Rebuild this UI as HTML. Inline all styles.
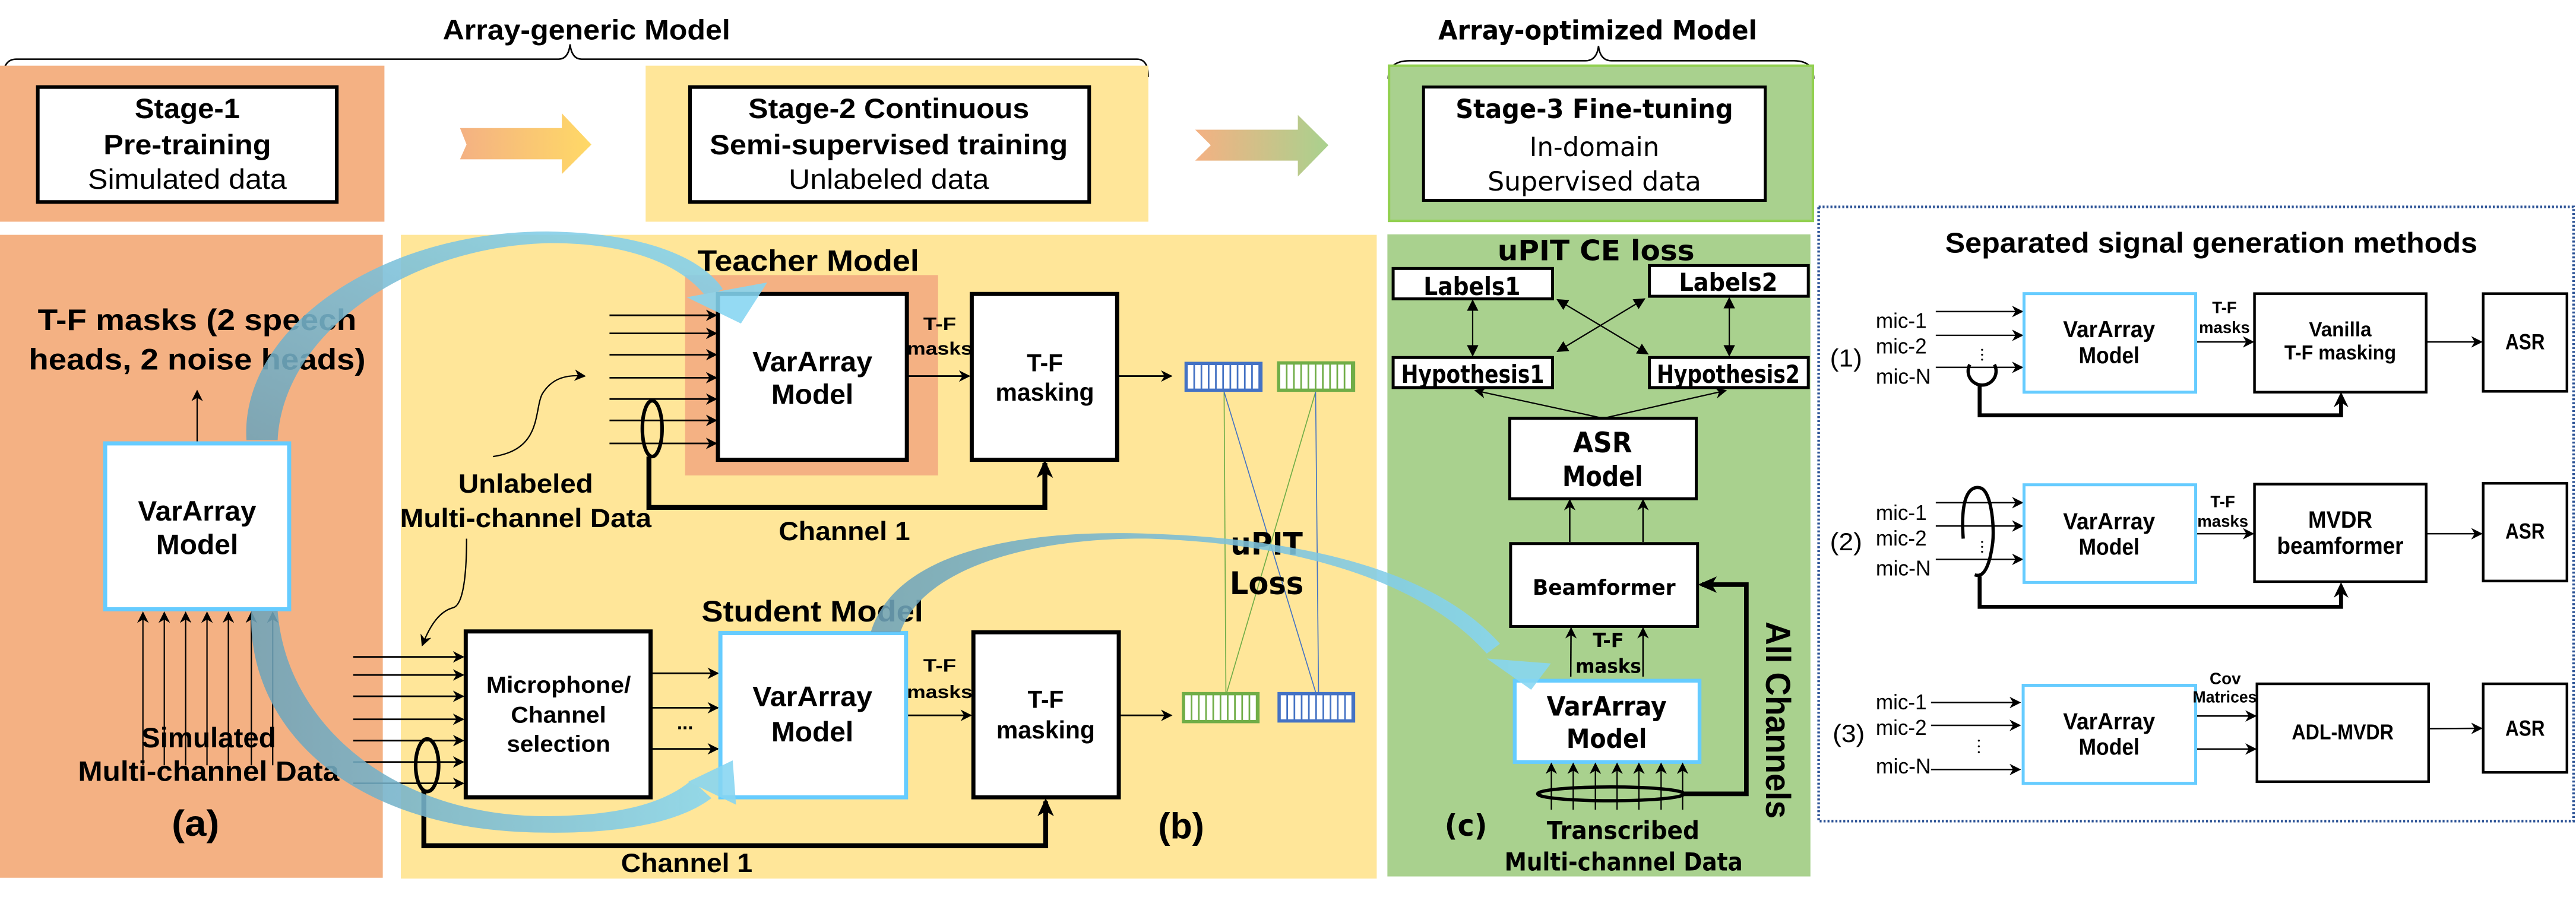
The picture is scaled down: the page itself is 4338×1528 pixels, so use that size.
<!DOCTYPE html>
<html><head><meta charset="utf-8"><style>
html,body{margin:0;padding:0;background:#fff}
svg{display:block}
.n{font-family:"Liberation Sans",sans-serif;font-weight:bold}
.r{font-family:"Liberation Sans",sans-serif}
.d{font-family:"DejaVu Sans",sans-serif;font-weight:bold}
.dr{font-family:"DejaVu Sans",sans-serif}
</style></head><body>
<svg width="4338" height="1528" viewBox="0 0 1568 552.3" preserveAspectRatio="none" xmlns="http://www.w3.org/2000/svg">
<defs>
<marker id="a" viewBox="0 0 10 10" refX="9" refY="5" markerWidth="7" markerHeight="7" markerUnits="userSpaceOnUse" orient="auto"><path d="M0,0 L10,5 L0,10 L3,5 Z" fill="#000"/></marker>
<marker id="t" viewBox="0 0 10 10" refX="9" refY="5" markerWidth="7" markerHeight="7" markerUnits="userSpaceOnUse" orient="auto-start-reverse"><path d="M0,0 L10,5 L0,10 Z" fill="#000"/></marker>
<linearGradient id="g1" x1="0" x2="1"><stop offset="0" stop-color="#f4b183"/><stop offset="1" stop-color="#ffd966"/></linearGradient>
<linearGradient id="g2" x1="0" x2="1"><stop offset="0" stop-color="#f4b183"/><stop offset="1" stop-color="#a9d18e"/></linearGradient>
<linearGradient id="bA" x1="0" y1="1" x2="1" y2="0"><stop offset="0" stop-color="#6fa3b8"/><stop offset="1" stop-color="#86d6f2"/></linearGradient>
<linearGradient id="bB" x1="0" y1="0" x2="1" y2="0"><stop offset="0" stop-color="#6fa3b8"/><stop offset="1" stop-color="#86d6f2"/></linearGradient>
</defs>

<!-- top stages -->
<text class="n" x="357" y="24" font-size="17" text-anchor="middle" textLength="175" lengthAdjust="spacingAndGlyphs">Array-generic Model</text>
<path d="M2,47 Q2,36 10,36 L340,36 Q346,36 347,27 Q348,36 354,36 L692,36 Q699,36 699,47" fill="none" stroke="#000" stroke-width="0.9"/>
<rect x="0" y="40" width="234" height="95" fill="#f4b183"/>
<rect x="23" y="53" width="182" height="70" fill="#fff" stroke="#000" stroke-width="2.2"/>
<text class="n" x="114" y="72" font-size="17" text-anchor="middle" textLength="64" lengthAdjust="spacingAndGlyphs">Stage-1</text>
<text class="n" x="114" y="94" font-size="17" text-anchor="middle" textLength="102" lengthAdjust="spacingAndGlyphs">Pre-training</text>
<text class="r" x="114" y="115" font-size="17" text-anchor="middle" textLength="121" lengthAdjust="spacingAndGlyphs">Simulated data</text>
<polygon points="280,78 342,78 342,69 360,88 342,106 342,97 280,97 284,88" fill="url(#g1)"/>
<rect x="393" y="40" width="306" height="95" fill="#ffe699"/>
<rect x="420" y="53" width="243" height="70" fill="#fff" stroke="#000" stroke-width="2.2"/>
<text class="n" x="541" y="72" font-size="17" text-anchor="middle" textLength="171" lengthAdjust="spacingAndGlyphs">Stage-2 Continuous</text>
<text class="n" x="541" y="94" font-size="17" text-anchor="middle" textLength="218" lengthAdjust="spacingAndGlyphs">Semi-supervised training</text>
<text class="r" x="541" y="115" font-size="17" text-anchor="middle" textLength="122" lengthAdjust="spacingAndGlyphs">Unlabeled data</text>
<polygon points="727.5,79 790,79 790,70 808.6,88.4 790,107.5 790,97.8 727.5,97.8 737,88.4" fill="url(#g2)"/>

<text class="d" x="972.5" y="24" font-size="16" text-anchor="middle" textLength="194" lengthAdjust="spacingAndGlyphs">Array-optimized Model</text>
<path d="M845,48 Q845,37 858,37 L965,37 Q972,37 973,28 Q974,37 981,37 L1092,37 Q1104,37 1104,48" fill="none" stroke="#000" stroke-width="0.9"/>
<rect x="845.5" y="40" width="258" height="94.5" fill="#a9d18e" stroke="#92d050" stroke-width="1.5"/>
<rect x="866.5" y="53" width="208" height="69" fill="#fff" stroke="#000" stroke-width="1.8"/>
<text class="d" x="970.5" y="72" font-size="16" text-anchor="middle" textLength="169" lengthAdjust="spacingAndGlyphs">Stage-3 Fine-tuning</text>
<text class="dr" x="970.5" y="95" font-size="16" text-anchor="middle" textLength="79" lengthAdjust="spacingAndGlyphs">In-domain</text>
<text class="dr" x="970.5" y="116" font-size="16" text-anchor="middle" textLength="130" lengthAdjust="spacingAndGlyphs">Supervised data</text>

<!-- panel backgrounds -->
<rect x="0" y="143" width="233" height="391.5" fill="#f4b183"/>
<rect x="244" y="143" width="594" height="392" fill="#ffe699"/>
<rect x="844.5" y="142.7" width="257.5" height="391" fill="#a9d18e"/>
<rect x="1107" y="126" width="459.5" height="374" fill="none" stroke="#2f5597" stroke-width="1.6" stroke-dasharray="1.2 1.2"/>

<!-- (a) -->
<text class="n" x="120" y="201" font-size="18" text-anchor="middle" textLength="194" lengthAdjust="spacingAndGlyphs">T-F masks (2 speech</text>
<text class="n" x="120" y="225" font-size="18" text-anchor="middle" textLength="205" lengthAdjust="spacingAndGlyphs">heads, 2 noise heads)</text>
<line x1="120" y1="269" x2="120" y2="238" stroke="#000" stroke-width="0.8" marker-end="url(#a)"/>
<rect x="64" y="270" width="112" height="101" fill="#fff" stroke="#66ccff" stroke-width="2.5"/>
<text class="n" x="120" y="317" font-size="17" text-anchor="middle" textLength="72" lengthAdjust="spacingAndGlyphs">VarArray</text>
<text class="n" x="120" y="337.5" font-size="17" text-anchor="middle" textLength="50" lengthAdjust="spacingAndGlyphs">Model</text>
<g stroke="#000" stroke-width="0.8">
<line x1="87" y1="466" x2="87" y2="373" marker-end="url(#a)"/>
<line x1="100" y1="466" x2="100" y2="373" marker-end="url(#a)"/>
<line x1="113" y1="466" x2="113" y2="373" marker-end="url(#a)"/>
<line x1="126" y1="466" x2="126" y2="373" marker-end="url(#a)"/>
<line x1="139" y1="466" x2="139" y2="373" marker-end="url(#a)"/>
<line x1="153" y1="466" x2="153" y2="373" marker-end="url(#a)"/>
<line x1="166" y1="466" x2="166" y2="373" marker-end="url(#a)"/>
</g>
<text class="n" x="127" y="455" font-size="17" text-anchor="middle" textLength="82" lengthAdjust="spacingAndGlyphs">Simulated</text>
<text class="n" x="127" y="475.5" font-size="17" text-anchor="middle" textLength="159" lengthAdjust="spacingAndGlyphs">Multi-channel  Data</text>
<text class="n" x="119" y="509" font-size="22" text-anchor="middle" textLength="29" lengthAdjust="spacingAndGlyphs">(a)</text>

<!-- (b) teacher -->
<rect x="417" y="167.5" width="154" height="122" fill="#f4b183"/>
<text class="n" x="492" y="165" font-size="18" text-anchor="middle" textLength="135" lengthAdjust="spacingAndGlyphs">Teacher Model</text>
<rect x="437" y="179" width="115" height="101" fill="#fff" stroke="#000" stroke-width="2.5"/>
<text class="n" x="494.5" y="226" font-size="17" text-anchor="middle" textLength="73" lengthAdjust="spacingAndGlyphs">VarArray</text>
<text class="n" x="494.5" y="246" font-size="17" text-anchor="middle" textLength="50" lengthAdjust="spacingAndGlyphs">Model</text>
<rect x="591.5" y="179" width="88.5" height="101" fill="#fff" stroke="#000" stroke-width="2.5"/>
<text class="n" x="636" y="226" font-size="15" text-anchor="middle" textLength="22" lengthAdjust="spacingAndGlyphs">T-F</text>
<text class="n" x="636" y="244" font-size="15" text-anchor="middle" textLength="60" lengthAdjust="spacingAndGlyphs">masking</text>
<text class="n" x="572" y="201" font-size="11" text-anchor="middle" textLength="20" lengthAdjust="spacingAndGlyphs">T-F</text>
<text class="n" x="572" y="216" font-size="11" text-anchor="middle" textLength="40" lengthAdjust="spacingAndGlyphs">masks</text>
<g stroke="#000" stroke-width="1">
<line x1="371" y1="192" x2="436" y2="192" marker-end="url(#a)"/>
<line x1="371" y1="203" x2="436" y2="203" marker-end="url(#a)"/>
<line x1="371" y1="216" x2="436" y2="216" marker-end="url(#a)"/>
<line x1="371" y1="230" x2="436" y2="230" marker-end="url(#a)"/>
<line x1="371" y1="243" x2="436" y2="243" marker-end="url(#a)"/>
<line x1="371" y1="256" x2="436" y2="256" marker-end="url(#a)"/>
<line x1="371" y1="270" x2="436" y2="270" marker-end="url(#a)"/>
<line x1="552" y1="229" x2="590" y2="229" marker-end="url(#a)"/>
<line x1="681" y1="229" x2="713" y2="229" marker-end="url(#a)"/>
</g>
<ellipse cx="397" cy="261" rx="6" ry="17" fill="none" stroke="#000" stroke-width="2.2"/>
<path d="M395,278 L395,309 L636,309 L636,282" fill="none" stroke="#000" stroke-width="3"/>
<path d="M631,291 L636,280 L641,291 L636,288Z" fill="#000"/>
<text class="n" x="514" y="329" font-size="16" text-anchor="middle" textLength="80" lengthAdjust="spacingAndGlyphs">Channel 1</text>
<text class="n" x="320" y="300" font-size="16" text-anchor="middle" textLength="82" lengthAdjust="spacingAndGlyphs">Unlabeled</text>
<text class="n" x="320" y="321" font-size="16" text-anchor="middle" textLength="153" lengthAdjust="spacingAndGlyphs">Multi-channel Data</text>
<path d="M300,278 C330,274 325,250 330,240 C336,230 345,228 356,229" fill="none" stroke="#000" stroke-width="0.8" marker-end="url(#a)"/>
<path d="M284,328 C284,350 282,368 276,370 C268,372 262,380 257,393" fill="none" stroke="#000" stroke-width="0.8" marker-end="url(#a)"/>

<!-- bars -->
<g>
<rect x="721" y="220.3" width="47.5" height="18.3" fill="#4472c4"/>
<rect x="777.3" y="220" width="47.6" height="18.6" fill="#70ad47"/>
<rect x="719.4" y="421.4" width="47.3" height="19" fill="#70ad47"/>
<rect x="777.6" y="421.4" width="47.3" height="18.6" fill="#4472c4"/>
<g fill="#fff">
<path d="M723,222.3h3.4v14.3h-3.4zM727.4,222.3h3.4v14.3h-3.4zM731.8,222.3h3.4v14.3h-3.4zM736.2,222.3h3.4v14.3h-3.4zM740.6,222.3h3.4v14.3h-3.4zM745,222.3h3.4v14.3h-3.4zM749.4,222.3h3.4v14.3h-3.4zM753.8,222.3h3.4v14.3h-3.4zM758.2,222.3h3.4v14.3h-3.4zM762.6,222.3h3.4v14.3h-3.4z"/>
<path d="M779.3,222h3.4v14.6h-3.4zM783.7,222h3.4v14.6h-3.4zM788.1,222h3.4v14.6h-3.4zM792.5,222h3.4v14.6h-3.4zM796.9,222h3.4v14.6h-3.4zM801.3,222h3.4v14.6h-3.4zM805.7,222h3.4v14.6h-3.4zM810.1,222h3.4v14.6h-3.4zM814.5,222h3.4v14.6h-3.4zM818.9,222h3.4v14.6h-3.4z"/>
<path d="M721.4,423.4h3.4v15h-3.4zM725.8,423.4h3.4v15h-3.4zM730.2,423.4h3.4v15h-3.4zM734.6,423.4h3.4v15h-3.4zM739,423.4h3.4v15h-3.4zM743.4,423.4h3.4v15h-3.4zM747.8,423.4h3.4v15h-3.4zM752.2,423.4h3.4v15h-3.4zM756.6,423.4h3.4v15h-3.4zM761,423.4h3.4v15h-3.4z"/>
<path d="M779.6,423.4h3.4v14.6h-3.4zM784,423.4h3.4v14.6h-3.4zM788.4,423.4h3.4v14.6h-3.4zM792.8,423.4h3.4v14.6h-3.4zM797.2,423.4h3.4v14.6h-3.4zM801.6,423.4h3.4v14.6h-3.4zM806,423.4h3.4v14.6h-3.4zM810.4,423.4h3.4v14.6h-3.4zM814.8,423.4h3.4v14.6h-3.4zM819.2,423.4h3.4v14.6h-3.4z"/>
</g>
<line x1="745.1" y1="238.6" x2="746.2" y2="421.4" stroke="#70ad47" stroke-width="0.6"/>
<line x1="745.1" y1="238.6" x2="800.8" y2="421.4" stroke="#4472c4" stroke-width="0.6"/>
<line x1="800.8" y1="238.6" x2="746.8" y2="421.4" stroke="#70ad47" stroke-width="0.6"/>
<line x1="800.8" y1="238.6" x2="802.6" y2="421.4" stroke="#4472c4" stroke-width="0.6"/>
</g>
<text class="d" x="771" y="337.7" font-size="19" text-anchor="middle" textLength="44" lengthAdjust="spacingAndGlyphs">uPIT</text>
<text class="d" x="771" y="361.8" font-size="19" text-anchor="middle" textLength="45" lengthAdjust="spacingAndGlyphs">Loss</text>

<!-- student -->
<text class="n" x="494.5" y="378.4" font-size="18" text-anchor="middle" textLength="135" lengthAdjust="spacingAndGlyphs">Student Model</text>
<rect x="283.5" y="384.5" width="112.5" height="101" fill="#fff" stroke="#000" stroke-width="2.5"/>
<text class="n" x="340" y="421.8" font-size="14" text-anchor="middle" textLength="88" lengthAdjust="spacingAndGlyphs">Microphone/</text>
<text class="n" x="340" y="440" font-size="14" text-anchor="middle" textLength="58" lengthAdjust="spacingAndGlyphs">Channel</text>
<text class="n" x="340" y="457.7" font-size="14" text-anchor="middle" textLength="63" lengthAdjust="spacingAndGlyphs">selection</text>
<g stroke="#000" stroke-width="1">
<line x1="215" y1="400" x2="282" y2="400" marker-end="url(#a)"/>
<line x1="215" y1="411" x2="282" y2="411" marker-end="url(#a)"/>
<line x1="215" y1="424" x2="282" y2="424" marker-end="url(#a)"/>
<line x1="215" y1="438" x2="282" y2="438" marker-end="url(#a)"/>
<line x1="215" y1="451" x2="282" y2="451" marker-end="url(#a)"/>
<line x1="215" y1="464" x2="282" y2="464" marker-end="url(#a)"/>
<line x1="215" y1="477" x2="282" y2="477" marker-end="url(#a)"/>
<line x1="397" y1="410" x2="437" y2="410" marker-end="url(#a)"/>
<line x1="397" y1="431" x2="437" y2="431" marker-end="url(#a)"/>
<line x1="397" y1="456" x2="437" y2="456" marker-end="url(#a)"/>
<line x1="552" y1="435.6" x2="591" y2="435.6" marker-end="url(#a)"/>
<line x1="681" y1="435.6" x2="713" y2="435.6" marker-end="url(#a)"/>
</g>
<text class="n" x="417" y="444" font-size="12" text-anchor="middle">...</text>
<rect x="438.5" y="385.5" width="113" height="100" fill="#fff" stroke="#66ccff" stroke-width="2.5"/>
<text class="n" x="494.5" y="430" font-size="17" text-anchor="middle" textLength="73" lengthAdjust="spacingAndGlyphs">VarArray</text>
<text class="n" x="494.5" y="451.4" font-size="17" text-anchor="middle" textLength="50" lengthAdjust="spacingAndGlyphs">Model</text>
<text class="n" x="572" y="409" font-size="11" text-anchor="middle" textLength="20" lengthAdjust="spacingAndGlyphs">T-F</text>
<text class="n" x="572" y="425" font-size="11" text-anchor="middle" textLength="40" lengthAdjust="spacingAndGlyphs">masks</text>
<rect x="592.5" y="385" width="88.5" height="100.5" fill="#fff" stroke="#000" stroke-width="2.5"/>
<text class="n" x="636.5" y="431" font-size="15" text-anchor="middle" textLength="22" lengthAdjust="spacingAndGlyphs">T-F</text>
<text class="n" x="636.5" y="449.6" font-size="15" text-anchor="middle" textLength="60" lengthAdjust="spacingAndGlyphs">masking</text>
<ellipse cx="260" cy="466" rx="7" ry="16" fill="none" stroke="#000" stroke-width="2.2"/>
<path d="M258,481 L258,515 L636.5,515 L636.5,488" fill="none" stroke="#000" stroke-width="3"/>
<path d="M631.5,497 L636.5,486 L641.5,497 L636.5,494Z" fill="#000"/>
<text class="n" x="418" y="531" font-size="16" text-anchor="middle" textLength="80" lengthAdjust="spacingAndGlyphs">Channel 1</text>
<text class="n" x="719" y="510.6" font-size="22" text-anchor="middle" textLength="28" lengthAdjust="spacingAndGlyphs">(b)</text>

<!-- (c) panel -->
<text class="d" x="971.5" y="158.5" font-size="17" text-anchor="middle" textLength="120" lengthAdjust="spacingAndGlyphs">uPIT CE loss</text>
<g fill="#fff" stroke="#000" stroke-width="1.8">
<rect x="848" y="163.5" width="97" height="18.5"/>
<rect x="1004" y="161.7" width="96.7" height="18.7"/>
<rect x="848" y="217.7" width="97" height="18.3"/>
<rect x="1004" y="217.7" width="96.7" height="18.3"/>
</g>
<text class="d" x="896" y="179.7" font-size="15" text-anchor="middle" textLength="59" lengthAdjust="spacingAndGlyphs">Labels1</text>
<text class="d" x="1052" y="177.2" font-size="15" text-anchor="middle" textLength="60" lengthAdjust="spacingAndGlyphs">Labels2</text>
<text class="d" x="896.4" y="233.2" font-size="15" text-anchor="middle" textLength="87" lengthAdjust="spacingAndGlyphs">Hypothesis1</text>
<text class="d" x="1052" y="233.2" font-size="15" text-anchor="middle" textLength="87" lengthAdjust="spacingAndGlyphs">Hypothesis2</text>
<g stroke="#000" stroke-width="0.8">
<line x1="896.4" y1="183" x2="896.4" y2="216.5" marker-start="url(#t)" marker-end="url(#t)"/>
<line x1="1052.6" y1="181.5" x2="1052.6" y2="216.5" marker-start="url(#t)" marker-end="url(#t)"/>
<line x1="948" y1="182.5" x2="1003" y2="215.5" marker-start="url(#t)" marker-end="url(#t)"/>
<line x1="1001" y1="182" x2="948" y2="214" marker-start="url(#t)" marker-end="url(#t)"/>
<line x1="975.8" y1="254.7" x2="898" y2="237.8" marker-end="url(#a)"/>
<line x1="975.8" y1="254.7" x2="1050.5" y2="237.8" marker-end="url(#a)"/>
</g>
<rect x="919" y="254.7" width="113.5" height="49" fill="#fff" stroke="#000" stroke-width="1.8"/>
<text class="d" x="975.5" y="275.5" font-size="17" text-anchor="middle" textLength="36" lengthAdjust="spacingAndGlyphs">ASR</text>
<text class="d" x="975.5" y="296" font-size="17" text-anchor="middle" textLength="49" lengthAdjust="spacingAndGlyphs">Model</text>
<g stroke="#000" stroke-width="0.9">
<line x1="955.5" y1="330" x2="955.5" y2="304.5" marker-end="url(#a)"/>
<line x1="1000.1" y1="330" x2="1000.1" y2="304.5" marker-end="url(#a)"/>
<line x1="956.1" y1="412" x2="956.3" y2="382.5" marker-end="url(#a)"/>
<line x1="1000.1" y1="412" x2="1000.1" y2="382.5" marker-end="url(#a)"/>
</g>
<rect x="919.5" y="331" width="113.8" height="50.5" fill="#fff" stroke="#000" stroke-width="1.8"/>
<text class="d" x="976.4" y="362.2" font-size="13" text-anchor="middle" textLength="87" lengthAdjust="spacingAndGlyphs">Beamformer</text>
<text class="d" x="979" y="394" font-size="12" text-anchor="middle" textLength="19" lengthAdjust="spacingAndGlyphs">T-F</text>
<text class="d" x="979" y="409.7" font-size="12" text-anchor="middle" textLength="40" lengthAdjust="spacingAndGlyphs">masks</text>
<rect x="922" y="414.5" width="112.5" height="49.5" fill="#fff" stroke="#66ccff" stroke-width="2.3"/>
<text class="d" x="978" y="435.8" font-size="16" text-anchor="middle" textLength="73" lengthAdjust="spacingAndGlyphs">VarArray</text>
<text class="d" x="978" y="455.5" font-size="16" text-anchor="middle" textLength="49" lengthAdjust="spacingAndGlyphs">Model</text>
<g stroke="#000" stroke-width="0.8">
<line x1="944.3" y1="493" x2="944.3" y2="465" marker-end="url(#a)"/>
<line x1="957.6" y1="493" x2="957.6" y2="465" marker-end="url(#a)"/>
<line x1="971.1" y1="493" x2="971.1" y2="465" marker-end="url(#a)"/>
<line x1="984.3" y1="493" x2="984.3" y2="465" marker-end="url(#a)"/>
<line x1="997.6" y1="493" x2="997.6" y2="465" marker-end="url(#a)"/>
<line x1="1011.1" y1="493" x2="1011.1" y2="465" marker-end="url(#a)"/>
<line x1="1024.2" y1="493" x2="1024.2" y2="465" marker-end="url(#a)"/>
</g>
<ellipse cx="980.5" cy="483.4" rx="44.5" ry="4.2" fill="none" stroke="#000" stroke-width="2"/>
<path d="M1025,483.4 L1063,483.4 L1063,356 L1036,356" fill="none" stroke="#000" stroke-width="2.8"/>
<path d="M1045,351 L1033.5,356 L1045,361 L1042,356Z" fill="#000"/>
<text class="n" x="0" y="0" font-size="21" text-anchor="middle" textLength="120" lengthAdjust="spacingAndGlyphs" transform="translate(1075,438.5) rotate(90)">All Channels</text>
<text class="d" x="892.3" y="509" font-size="18" text-anchor="middle" textLength="26" lengthAdjust="spacingAndGlyphs">(c)</text>
<text class="d" x="988" y="511" font-size="15" text-anchor="middle" textLength="93" lengthAdjust="spacingAndGlyphs">Transcribed</text>
<text class="d" x="988.3" y="530" font-size="15" text-anchor="middle" textLength="145" lengthAdjust="spacingAndGlyphs">Multi-channel Data</text>

<!-- right panel -->
<text class="n" x="1346" y="153.8" font-size="17.5" text-anchor="middle" textLength="324" lengthAdjust="spacingAndGlyphs">Separated signal generation methods</text>
<g class="r" font-size="13">
<text x="1141.8" y="199.7" textLength="31" lengthAdjust="spacingAndGlyphs">mic-1</text>
<text x="1141.8" y="215.2" textLength="31" lengthAdjust="spacingAndGlyphs">mic-2</text>
<text x="1141.8" y="233.6" textLength="33.5" lengthAdjust="spacingAndGlyphs">mic-N</text>
<text x="1141.8" y="316.6" textLength="31" lengthAdjust="spacingAndGlyphs">mic-1</text>
<text x="1141.8" y="332.1" textLength="31" lengthAdjust="spacingAndGlyphs">mic-2</text>
<text x="1141.8" y="350.5" textLength="33.5" lengthAdjust="spacingAndGlyphs">mic-N</text>
<text x="1141.8" y="432" textLength="31" lengthAdjust="spacingAndGlyphs">mic-1</text>
<text x="1141.8" y="447.4" textLength="31" lengthAdjust="spacingAndGlyphs">mic-2</text>
<text x="1141.8" y="470.9" textLength="33.5" lengthAdjust="spacingAndGlyphs">mic-N</text>
</g>
<g class="r" font-size="15">
<text x="1113.9" y="223.2" textLength="19.6" lengthAdjust="spacingAndGlyphs">(1)</text>
<text x="1113.9" y="335" textLength="19.6" lengthAdjust="spacingAndGlyphs">(2)</text>
<text x="1115.5" y="451.9" textLength="19.6" lengthAdjust="spacingAndGlyphs">(3)</text>
</g>
<g stroke="#000" stroke-width="0.9">
<line x1="1178.3" y1="189.7" x2="1231" y2="189.7" marker-end="url(#a)"/>
<line x1="1178.3" y1="204.2" x2="1231" y2="204.2" marker-end="url(#a)"/>
<line x1="1178.3" y1="223.7" x2="1231" y2="223.7" marker-end="url(#a)"/>
<line x1="1336.6" y1="208.2" x2="1371.5" y2="208.2" marker-end="url(#a)"/>
<line x1="1476.8" y1="208.2" x2="1510.5" y2="208.2" marker-end="url(#a)"/>
<line x1="1178.3" y1="306.1" x2="1231" y2="306.1" marker-end="url(#a)"/>
<line x1="1178.3" y1="320.3" x2="1231" y2="320.3" marker-end="url(#a)"/>
<line x1="1178.3" y1="340.6" x2="1231" y2="340.6" marker-end="url(#a)"/>
<line x1="1336.6" y1="325" x2="1371.5" y2="325" marker-end="url(#a)"/>
<line x1="1476.8" y1="325" x2="1510.5" y2="325" marker-end="url(#a)"/>
<line x1="1175.4" y1="427.8" x2="1229.5" y2="427.8" marker-end="url(#a)"/>
<line x1="1175.4" y1="441.7" x2="1229.5" y2="441.7" marker-end="url(#a)"/>
<line x1="1175.4" y1="468.6" x2="1229.5" y2="468.6" marker-end="url(#a)"/>
<line x1="1336.6" y1="436" x2="1373" y2="436" marker-end="url(#a)"/>
<line x1="1336.6" y1="456.1" x2="1373" y2="456.1" marker-end="url(#a)"/>
<line x1="1478.3" y1="443.7" x2="1510.5" y2="443.5" marker-end="url(#a)"/>
</g>
<g fill="#fff" stroke="#66ccff" stroke-width="1.8">
<rect x="1232" y="178.8" width="104.5" height="60"/>
<rect x="1232" y="295.2" width="104.5" height="59.5"/>
<rect x="1231.5" y="417.3" width="105" height="59.7"/>
</g>
<g fill="#fff" stroke="#000" stroke-width="1.6">
<rect x="1372.3" y="178.8" width="104.5" height="60"/>
<rect x="1511.5" y="178.8" width="51" height="59.5"/>
<rect x="1372.3" y="294.8" width="104.5" height="59.4"/>
<rect x="1511.5" y="294.3" width="51" height="59.5"/>
<rect x="1373.8" y="416.4" width="104.5" height="59.6"/>
<rect x="1511.5" y="416.4" width="51" height="53.9"/>
</g>
<g class="n" text-anchor="middle">
<text x="1283.8" y="205.3" font-size="14" textLength="56" lengthAdjust="spacingAndGlyphs">VarArray</text>
<text x="1283.8" y="221.2" font-size="14" textLength="37" lengthAdjust="spacingAndGlyphs">Model</text>
<text x="1283.8" y="322.2" font-size="14" textLength="56" lengthAdjust="spacingAndGlyphs">VarArray</text>
<text x="1283.8" y="337.8" font-size="14" textLength="37" lengthAdjust="spacingAndGlyphs">Model</text>
<text x="1283.8" y="444" font-size="14" textLength="56" lengthAdjust="spacingAndGlyphs">VarArray</text>
<text x="1283.8" y="459.5" font-size="14" textLength="37" lengthAdjust="spacingAndGlyphs">Model</text>
<text x="1354" y="190.6" font-size="10" textLength="15" lengthAdjust="spacingAndGlyphs">T-F</text>
<text x="1354" y="202.8" font-size="10" textLength="31" lengthAdjust="spacingAndGlyphs">masks</text>
<text x="1353" y="308.9" font-size="10" textLength="15" lengthAdjust="spacingAndGlyphs">T-F</text>
<text x="1353" y="320.8" font-size="10" textLength="31" lengthAdjust="spacingAndGlyphs">masks</text>
<text x="1354.5" y="416.5" font-size="10" textLength="19" lengthAdjust="spacingAndGlyphs">Cov</text>
<text x="1354.2" y="427.8" font-size="10" textLength="39" lengthAdjust="spacingAndGlyphs">Matrices</text>
<text x="1424.5" y="204.8" font-size="12.5" textLength="38" lengthAdjust="spacingAndGlyphs">Vanilla</text>
<text x="1424.5" y="218.9" font-size="12.5" textLength="68" lengthAdjust="spacingAndGlyphs">T-F masking</text>
<text x="1424.5" y="321.4" font-size="14.5" textLength="39" lengthAdjust="spacingAndGlyphs">MVDR</text>
<text x="1424.5" y="337.2" font-size="14.5" textLength="77" lengthAdjust="spacingAndGlyphs">beamformer</text>
<text x="1426" y="450.2" font-size="13" textLength="62" lengthAdjust="spacingAndGlyphs">ADL-MVDR</text>
<text x="1537" y="212.7" font-size="13.5" textLength="24" lengthAdjust="spacingAndGlyphs">ASR</text>
<text x="1537" y="328" font-size="13.5" textLength="24" lengthAdjust="spacingAndGlyphs">ASR</text>
<text x="1537" y="448" font-size="13.5" textLength="24" lengthAdjust="spacingAndGlyphs">ASR</text>
</g>
<g fill="#000">
<circle cx="1206.5" cy="213" r="0.6"/><circle cx="1206.5" cy="216" r="0.6"/><circle cx="1206.5" cy="219" r="0.6"/>
<circle cx="1206.5" cy="330" r="0.6"/><circle cx="1206.5" cy="333" r="0.6"/><circle cx="1206.5" cy="336" r="0.6"/>
<circle cx="1204.5" cy="451" r="0.6"/><circle cx="1204.5" cy="454.5" r="0.6"/><circle cx="1204.5" cy="458" r="0.6"/>
</g>
<path d="M1199,222 A8.5,8.5 0 1 0 1214,222" fill="none" stroke="#000" stroke-width="2"/>
<path d="M1205,234 L1205,252.9 L1425,252.9 L1425,241" fill="none" stroke="#000" stroke-width="2.4"/>
<path d="M1420.5,248 L1425,238.7 L1429.5,248 L1425,245Z" fill="#000"/>
<path d="M1195,328 C1193,300 1200,296 1205,297 C1212,298 1214,320 1213,330 C1211,346 1207,352 1202,350" fill="none" stroke="#000" stroke-width="2"/>
<path d="M1205,351 L1205,369.5 L1425,369.5 L1425,357" fill="none" stroke="#000" stroke-width="2.4"/>
<path d="M1420.5,364 L1425,354.5 L1429.5,364 L1425,361Z" fill="#000"/>

<!-- blue curved arrows (tapered bands) -->
<g opacity="0.88">
<path d="M150,268 C146,200 232,140 335,141 C395,142 428,158 440,176 L430,181 C418,165 390,148 335,148 C245,150 172,205 169,268 Z" fill="url(#bA)"/>
<polygon points="418,181 467,172 451,197" fill="#86d6f2"/>
<path d="M153,372 C150,442 212,506 330,507 C392,508 420,496 433,486 L421,475 C407,487 382,497 330,497 C238,496 174,440 169,372 Z" fill="url(#bB)"/>
<polygon points="419,476 446,463 448,490" fill="#86d6f2"/>
<path d="M530,385 C545,336 620,322 700,325 C790,328 872,346 913,392 L905,398 C866,354 790,331 700,328 C630,327 562,345 548,385 Z" fill="url(#bB)"/>
<polygon points="905,401 944,404 932,420" fill="#86d6f2"/>
</g>
</svg>
</body></html>
